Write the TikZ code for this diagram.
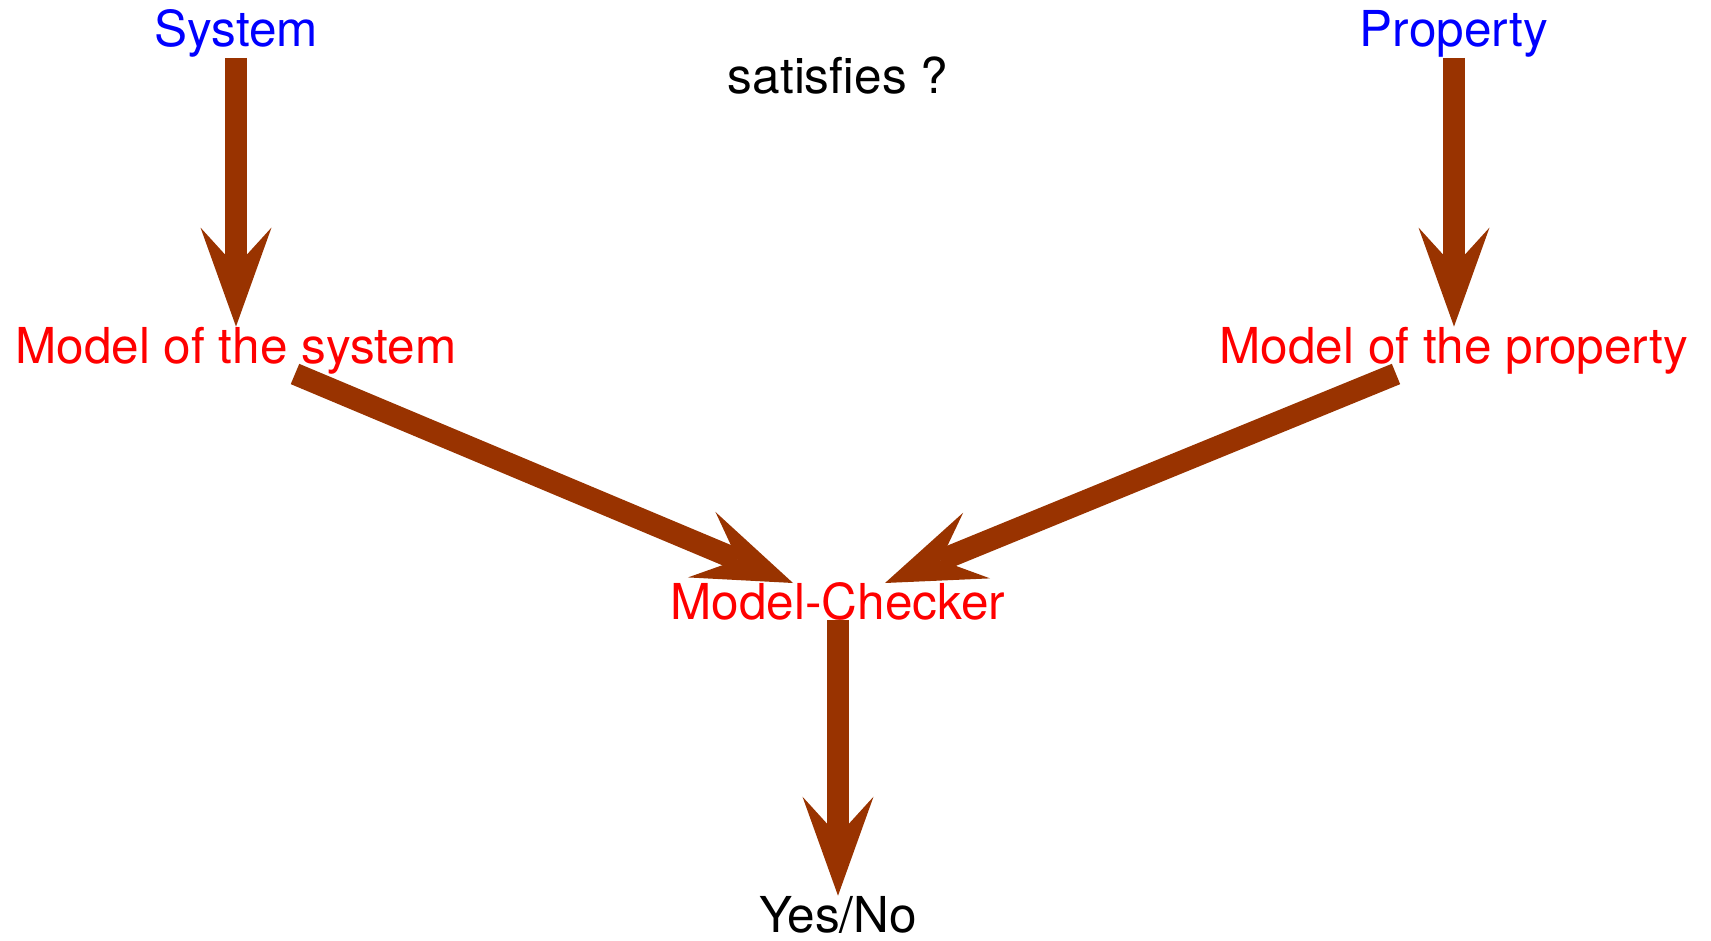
\documentclass[tikz,border=0pt]{standalone}
\usepackage{fontspec}
\setmainfont{TeX Gyre Heros}
\usetikzlibrary{arrows.meta}
\definecolor{arrowbrown}{RGB}{153,51,0}
\begin{document}
\begin{tikzpicture}[x=1pt,y=-1pt,
  lbl/.style={font=\fontsize{49.5}{58}\selectfont, inner sep=0pt, anchor=base},
  source/.style={lbl, text=blue},
  model/.style={lbl, text=red},
  plain/.style={lbl, text=black},
  conn/.style={draw=arrowbrown, line width=22pt,
    -{Stealth[length=99pt,width=71pt,inset=39pt,line width=0pt]}}]
\useasboundingbox (0,0) rectangle (1711,941);

% texts
\node[source] (sys)  at (236,47)  {System};
\node[source] (prop) at (1454,47) {Property};
\node[plain]  (sat)  at (838,94)  {satisfies ?};
\node[model]  (msys) at (236,363) {Model of the system};
\node[model]  (mprop) at (1454,363) {Model of the property};
\node[model]  (mc)   at (838,619) {Model-Checker};
\node[plain]  (yn)   at (838,932) {Yes/No};

% arrow ends on the model-checker label
\coordinate (mcl) at (793,583);
\coordinate (mcr) at (885,583);

% connectors
\draw[conn] (sys.south) -- (msys.north);
\draw[conn] (prop.south) -- (mprop.north);
\draw[conn] ([xshift=59pt]msys.south) -- (mcl);
\draw[conn] ([xshift=-58pt]mprop.south) -- (mcr);
\draw[conn] (mc.south) -- (yn.north);
\end{tikzpicture}
\end{document}
